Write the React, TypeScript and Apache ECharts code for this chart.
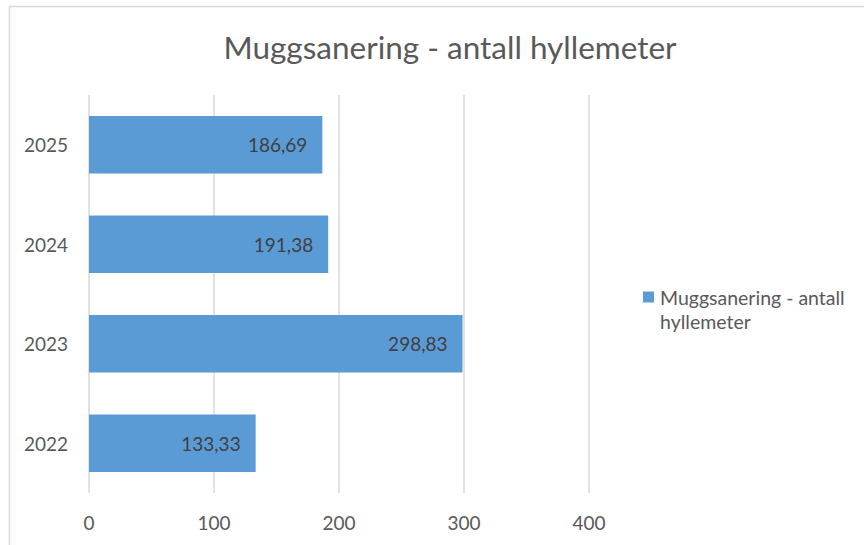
import React, { useEffect, useRef } from "react";
import * as echarts from "echarts";

const title = "Muggsanering - antall hyllemeter";
const seriesName = "Muggsanering - antall hyllemeter";
const legendLine1 = "Muggsanering - antall";
const legendLine2 = "hyllemeter";
const categories = ["2022", "2023", "2024", "2025"];
const values = [133.33, 298.83, 191.38, 186.69];
const xTicks = [0, 100, 200, 300, 400];

const FONT = "Lato, 'Open Sans', sans-serif";

export default function App() {
  const ref = useRef<HTMLDivElement>(null);
  useEffect(() => {
    if (!ref.current) return;
    const chart = echarts.init(ref.current, undefined, { renderer: "svg" });
    chart.setOption({
      animation: false,
      backgroundColor: "#ffffff",
      textStyle: { fontFamily: FONT },
      title: {
        text: title,
        left: 445,
        top: 26,
        textAlign: "center",
        textStyle: { fontFamily: FONT, fontSize: 31.5, fontWeight: "normal", color: "#595959" },
      },
      graphic: [
        {
          type: "rect",
          shape: { x: 9.5, y: 6.5, width: 900, height: 600 },
          style: { fill: "none", stroke: "#d9d9d9", lineWidth: 1.5 },
          silent: true,
        },
        {
          type: "text",
          left: 660,
          top: 311,
          style: { text: legendLine2, fontFamily: FONT, fontSize: 19.5, fill: "#595959" },
          silent: true,
        },
      ],
      legend: {
        left: 638,
        top: 282,
        itemWidth: 11,
        itemHeight: 11,
        itemGap: 0,
        icon: "rect",
        formatter: () => legendLine1,
        textStyle: { fontFamily: FONT, fontSize: 19.5, color: "#595959", padding: [0, 0, 0, 1] },
        data: [seriesName],
      },
      grid: { left: 89, right: 275, top: 95, bottom: 52, containLabel: false },
      xAxis: {
        type: "value",
        min: xTicks[0],
        max: xTicks[xTicks.length - 1],
        interval: 100,
        axisLine: { show: false },
        axisTick: { show: false },
        splitLine: { show: true, lineStyle: { color: "#d9d9d9", width: 1.5 } },
        axisLabel: { fontFamily: FONT, fontSize: 19, color: "#595959", margin: 20 },
      },
      yAxis: {
        type: "category",
        data: categories,
        axisLine: { show: false },
        axisTick: { show: false },
        axisLabel: { fontFamily: FONT, fontSize: 19, color: "#595959", margin: 21 },
      },
      series: [
        {
          name: seriesName,
          type: "bar",
          data: values,
          barCategoryGap: "42%",
          itemStyle: { color: "#5b9bd5" },
          label: {
            show: true,
            position: "insideRight",
            distance: 15,
            fontFamily: FONT,
            fontSize: 19,
            color: "#404040",
            formatter: (p: any) => Number(p.value).toFixed(2).replace(".", ","),
          },
        },
      ],
    });
    return () => chart.dispose();
  }, []);
  return (
    <div
      ref={ref}
      style={{ position: "fixed", left: 0, top: 0, width: 864, height: 545 }}
    />
  );
}
